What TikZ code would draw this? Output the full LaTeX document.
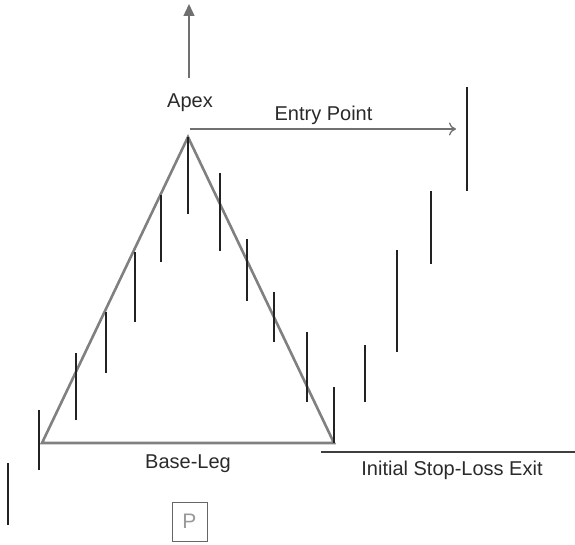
\documentclass[tikz,border=0pt]{standalone}
\usepackage{fontspec}
\setmainfont{Liberation Sans}
\usetikzlibrary{arrows.meta}
\definecolor{trigray}{HTML}{808080}
\definecolor{arrgray}{HTML}{707070}
\definecolor{bardark}{HTML}{222222}
\definecolor{txtdark}{HTML}{2A2A2A}
\definecolor{boxgray}{HTML}{666666}
\definecolor{ptext}{HTML}{999999}
\begin{document}
\begin{tikzpicture}[x=1pt,y=-1pt,
  tri/.style={draw=trigray, line width=2.6pt, line join=miter},
  bar/.style={draw=bardark, line width=2pt},
  lbl/.style={font=\fontsize{20}{24}\selectfont, text=txtdark, inner sep=0pt, anchor=base},
  pbox/.style={draw=boxgray, line width=1pt, minimum width=35pt, minimum height=39pt, inner sep=0pt, text=ptext, font=\fontsize{21}{25}\selectfont}
]
\useasboundingbox (0,0) rectangle (575,545);
% triangle
\coordinate (apex) at (188,137);
\coordinate (bl) at (42,443);
\coordinate (br) at (334,443);
\draw[tri] (bl) -- (apex) -- (br) -- cycle;
% bars
\foreach \x/\a/\b in {8/463/525, 39/410/470, 76/353/420, 106/312/373, 135/252/322, 161/195/262, 188/137/214, 220/173/251, 247/239/301, 274/292/342, 307/332/402, 334/387/443, 365/345/402, 397/250/352, 431/191/264, 467/87/191}
  \draw[bar] (\x,\a) -- (\x,\b);
% up arrow
\coordinate (upbot) at (189,78);
\coordinate (uptop) at (189,4);
\draw[draw=arrgray, line width=1.4pt, -{Triangle[length=12pt,width=11pt]}, arrgray] (upbot) -- (uptop);
% entry arrow
\coordinate (es) at (190,129);
\coordinate (ee) at (456,129);
\draw[draw=arrgray, line width=2pt, -{To[length=7pt,width=13pt,line width=1.3pt]}] (es) -- (ee);
% stop loss line
\coordinate (ss) at (321,452);
\coordinate (se) at (575,452);
\draw[draw=txtdark!90, line width=1.4pt] (ss) -- (se);
% labels
\node[lbl] (apexlbl) at (190,108) {Apex};
\node[lbl] (entrylbl) at (323.5,121) {Entry Point};
\node[lbl] (baselbl) at (188,468) {Base-Leg};
\node[lbl] (stoplbl) at (452,475) {Initial Stop-Loss Exit};
\node[pbox] (p) at (189.5,521.5) {P};
\end{tikzpicture}
\end{document}
